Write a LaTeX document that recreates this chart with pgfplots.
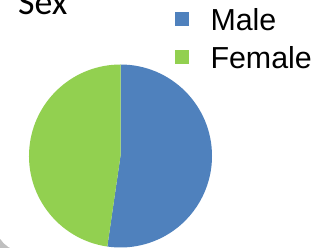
\documentclass[border=0pt]{standalone}
\usepackage{fontspec}
\setmainfont{Liberation Sans}
\newfontfamily\titlefont{Carlito}
\usepackage{pgfplots}
\usepackage{pgfplotstable}
\pgfplotsset{compat=1.18}
\definecolor{maleblue}{RGB}{79,129,189}
\definecolor{femgreen}{RGB}{146,208,80}
\pgfplotstableread{
label value
Male 52.3
Female 47.7
}\piedata
\begin{document}
\begin{tikzpicture}[x=1bp,y=1bp]
\path[use as bounding box, clip] (0,0) rectangle (329,248);
\fill[black!25] (-10,-10) rectangle (340,40);
\fill[white, rounded corners=30bp] (-5,-4) rectangle (345,300);
\pgfplotstablegetelem{0}{value}\of\piedata
\pgfmathsetmacro\aM{90-3.6*\pgfplotsretval}
\node[anchor=base west, font=\titlefont\fontsize{36}{40}\selectfont, inner sep=0pt] at (18,233.5) {Sex};
\begin{axis}[at={(120.5bp,92bp)}, anchor=center, scale only axis,
  width=183bp, height=183bp, xmin=-1, xmax=1, ymin=-1, ymax=1,
  hide axis, clip=false,
  legend image code/.code={\fill[#1] (0bp,-7bp) rectangle (14bp,7bp);},
  legend cell align=left,
  legend style={draw=none, fill=none, inner sep=0pt, outer sep=0pt,
    at={(axis description cs:0.7978,1.3087)}, anchor=north west,
    font=\fontsize{30.5}{36}\selectfont,
    nodes={inner sep=0pt, text height=22bp, text depth=0pt},
    row sep=16bp,
    /tikz/every odd column/.append style={column sep=21.5bp}}]
\fill[maleblue] (axis cs:0,0) -- (axis cs:0,1) arc[start angle=90, end angle=\aM, radius=91.5bp] -- cycle;
\fill[femgreen] (axis cs:0,0) -- (axis cs:{cos(\aM)},{sin(\aM)}) arc[start angle=\aM, end angle=-270, radius=91.5bp] -- cycle;
\addlegendimage{fill=maleblue, draw=none}
\addlegendentry{Male}
\addlegendimage{fill=femgreen, draw=none}
\addlegendentry{Female}
\end{axis}
\end{tikzpicture}
\end{document}
